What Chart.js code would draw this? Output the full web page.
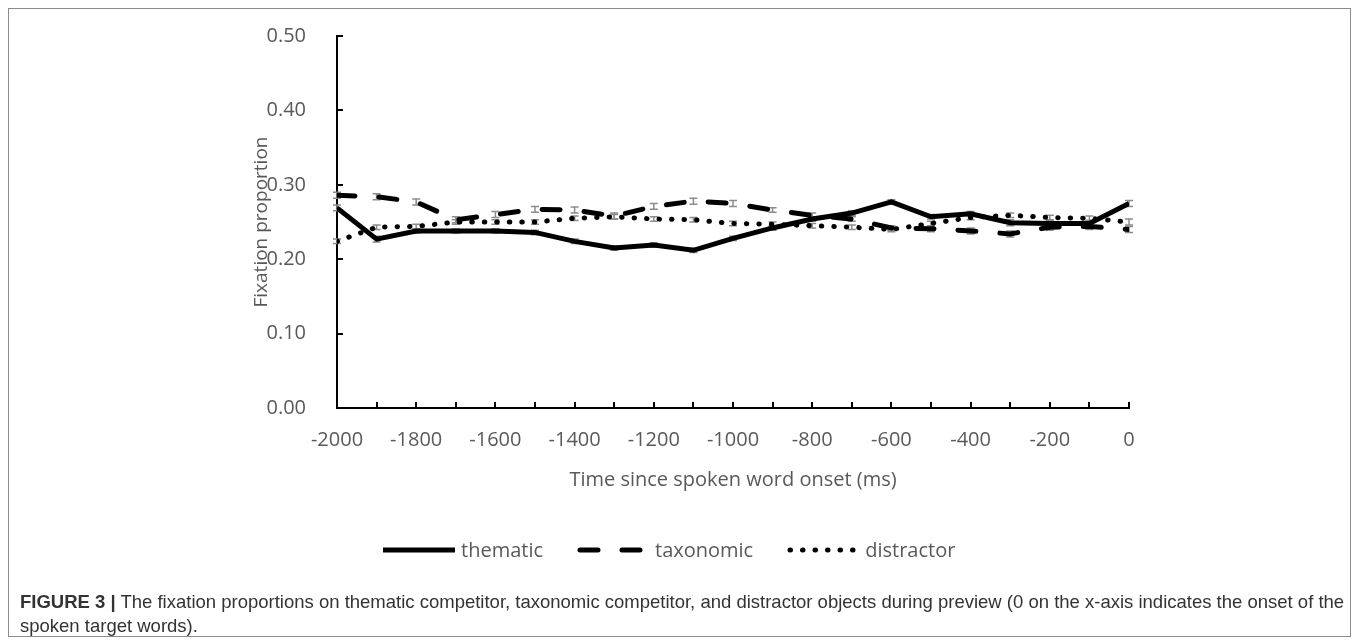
<!DOCTYPE html>
<html>
<head>
<meta charset="utf-8">
<script src="https://cdn.jsdelivr.net/npm/chart.js@4"></script>
<style>
    body { margin: 0; background: #fff; overflow: hidden; }
    #frame {
        position: absolute; left: 8px; top: 8px; width: 1343px; height: 629px;
        border: 1px solid #8c8c8c; box-sizing: border-box;
    }
    #wrap { position: absolute; left: 0; top: -7px; }
    #legend {
        position: absolute; left: 383px; top: 534px; height: 28px;
        font-family: "Open Sans", sans-serif; font-size: 20px; color: #595959;
        white-space: nowrap;
    }
    #legend .item { display: inline-block; margin-right: 34px; }
    #legend canvas { vertical-align: middle; margin-right: 6px; }
    #legend span { vertical-align: middle; }
    #caption {
        position: absolute; left: 20px; top: 590px;
        font-family: "Liberation Sans", Arial, sans-serif;
        font-size: 18.5px; line-height: 24px; color: #333; white-space: nowrap;
    }
</style>
</head>
<body>
<div id="frame"></div>
<div id="wrap"><canvas id="fixChart" width="1360" height="600"></canvas></div>
<div id="legend"></div>
<div id="caption"><b>FIGURE 3 |</b> The fixation proportions on thematic competitor, taxonomic competitor, and distractor objects during preview (0 on the x-axis indicates the onset of the<br>spoken target words).</div>

<script>
// Time points (ms)
const times = [-2000, -1900, -1800, -1700, -1600, -1500, -1400, -1300, -1200, -1100, -1000,
               -900, -800, -700, -600, -500, -400, -300, -200, -100, 0];

const seriesNames = ['thematic', 'taxonomic', 'distractor'];

// Fixation proportions
const thematic   = [0.269, 0.227, 0.238, 0.238, 0.238, 0.236, 0.224, 0.215, 0.219, 0.212, 0.228,
                    0.242, 0.254, 0.262, 0.277, 0.257, 0.261, 0.249, 0.248, 0.248, 0.275];
const taxonomic  = [0.286, 0.284, 0.277, 0.253, 0.260, 0.267, 0.266, 0.258, 0.271, 0.278, 0.275,
                    0.266, 0.259, 0.254, 0.242, 0.241, 0.238, 0.234, 0.243, 0.244, 0.240];
const distractor = [0.224, 0.243, 0.244, 0.250, 0.250, 0.250, 0.255, 0.257, 0.254, 0.253, 0.248,
                    0.247, 0.245, 0.243, 0.240, 0.248, 0.256, 0.259, 0.256, 0.255, 0.250];

// Standard errors (small gray bars)
const thematicErr   = [0.004, 0.004, 0.003, 0.003, 0.003, 0.003, 0.003, 0.003, 0.003, 0.003, 0.003,
                       0.003, 0.003, 0.003, 0.003, 0.003, 0.003, 0.004, 0.004, 0.004, 0.004];
const taxonomicErr  = [0.004, 0.004, 0.004, 0.004, 0.004, 0.004, 0.004, 0.004, 0.004, 0.004, 0.004,
                       0.003, 0.003, 0.003, 0.003, 0.004, 0.004, 0.004, 0.004, 0.004, 0.004];
const distractorErr = [0.003, 0.003, 0.003, 0.003, 0.003, 0.003, 0.003, 0.003, 0.003, 0.003, 0.003,
                       0.003, 0.003, 0.003, 0.003, 0.003, 0.003, 0.003, 0.003, 0.003, 0.004];

const yTicks = [0, 0.1, 0.2, 0.3, 0.4, 0.5];

const labelGray = '#595959';

// line styles per series
const dashes = [[], [18, 24], [0.5, 12]];
const caps = ['butt', 'round', 'round'];

function toPoints(values) {
    return values.map((v, i) => ({ x: times[i], y: v }));
}

// error bars drawn under the lines
const errorBars = {
    id: 'errorBars',
    beforeDatasetsDraw(chart) {
        const ctx = chart.ctx;
        const xs = chart.scales.x, ys = chart.scales.y;
        ctx.save();
        ctx.strokeStyle = '#8c8c8c';
        ctx.lineWidth = 1.5;
        chart.data.datasets.forEach(ds => {
            ds.err.forEach((e, i) => {
                const px = xs.getPixelForValue(ds.data[i].x);
                const top = ys.getPixelForValue(ds.data[i].y + e);
                const bot = ys.getPixelForValue(ds.data[i].y - e);
                ctx.beginPath();
                ctx.moveTo(px, top); ctx.lineTo(px, bot);
                ctx.moveTo(px - 4, top); ctx.lineTo(px + 4, top);
                ctx.moveTo(px - 4, bot); ctx.lineTo(px + 4, bot);
                ctx.stroke();
            });
        });
        ctx.restore();
    }
};

// inward tick marks like the Excel chart
const innerTicks = {
    id: 'innerTicks',
    afterDraw(chart) {
        const ctx = chart.ctx;
        const area = chart.chartArea;
        const xs = chart.scales.x, ys = chart.scales.y;
        ctx.save();
        ctx.strokeStyle = '#000';
        ctx.lineWidth = 2;
        ctx.beginPath();
        times.forEach(t => {
            const px = Math.round(xs.getPixelForValue(t));
            ctx.moveTo(px, area.bottom);
            ctx.lineTo(px, area.bottom - 6);
        });
        yTicks.forEach(v => {
            const py = Math.round(ys.getPixelForValue(v));
            ctx.moveTo(area.left, py);
            ctx.lineTo(area.left + 6, py);
        });
        ctx.stroke();
        ctx.restore();
    }
};

const seriesData = [thematic, taxonomic, distractor];
const seriesErr = [thematicErr, taxonomicErr, distractorErr];

const datasets = seriesNames.map((name, k) => ({
    label: name,
    data: toPoints(seriesData[k]),
    err: seriesErr[k],
    borderColor: '#000',
    backgroundColor: '#000',
    borderWidth: 5,
    borderDash: dashes[k],
    borderCapStyle: caps[k],
    pointRadius: 0,
    tension: 0
}));

const ctx = document.getElementById('fixChart').getContext('2d');
new Chart(ctx, {
    type: 'line',
    data: { datasets },
    options: {
        responsive: false,
        animation: false,
        layout: {
            padding: { left: 240, right: 231, top: 22, bottom: 90 }
        },
        plugins: {
            tooltip: { enabled: false },
            legend: { display: false }
        },
        scales: {
            x: {
                type: 'linear',
                min: -2000,
                max: 0,
                afterFit: scale => { scale.height = 95; },
                grid: { display: false, drawTicks: false },
                border: { display: true, color: '#000', width: 2 },
                ticks: {
                    stepSize: 100,
                    autoSkip: false,
                    maxRotation: 0,
                    padding: 20,
                    color: labelGray,
                    font: { family: 'Open Sans', size: 20 },
                    callback: v => (v % 200 === 0 ? String(v) : '')
                },
                title: {
                    display: true,
                    text: 'Time since spoken word onset (ms)',
                    color: labelGray,
                    font: { family: 'Open Sans', size: 20 },
                    padding: { top: 0, bottom: 11 }
                }
            },
            y: {
                min: 0,
                max: 0.5,
                afterFit: scale => { scale.width = 97; },
                grid: { display: false, drawTicks: false },
                border: { display: true, color: '#000', width: 2 },
                ticks: {
                    stepSize: 0.1,
                    padding: 31,
                    color: labelGray,
                    font: { family: 'Open Sans', size: 20 },
                    callback: v => v.toFixed(2)
                },
                title: {
                    display: true,
                    text: 'Fixation proportion',
                    color: labelGray,
                    font: { family: 'Open Sans', size: 19 },
                    padding: { top: 10, bottom: 0 }
                }
            }
        }
    },
    plugins: [errorBars, innerTicks]
});

// Legend with real line samples
const legendBox = document.getElementById('legend');
seriesNames.forEach((name, k) => {
    const item = document.createElement('div');
    item.className = 'item';
    const sample = document.createElement('canvas');
    sample.width = 72;
    sample.height = 14;
    const sctx = sample.getContext('2d');
    sctx.strokeStyle = '#000';
    sctx.lineWidth = 5;
    sctx.lineCap = caps[k];
    sctx.setLineDash(dashes[k]);
    sctx.beginPath();
    const pad = caps[k] === 'round' ? 3 : 0;
    sctx.moveTo(pad, 7);
    sctx.lineTo(72 - pad, 7);
    sctx.stroke();
    const text = document.createElement('span');
    text.textContent = name;
    item.appendChild(sample);
    item.appendChild(text);
    legendBox.appendChild(item);
});
</script>
</body>
</html>
